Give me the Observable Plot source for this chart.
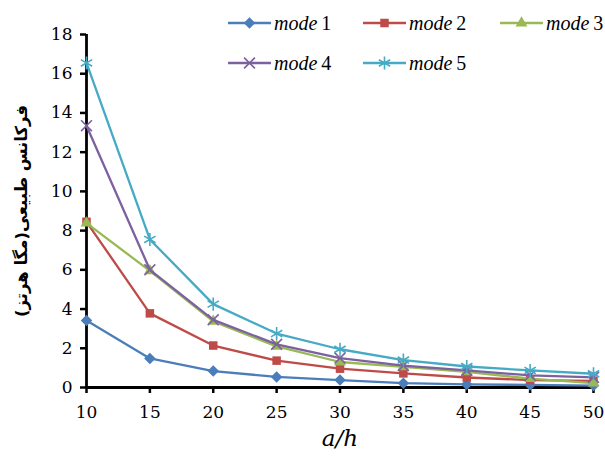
<!DOCTYPE html>
<html>
<head>
<meta charset="utf-8">
<script src="https://cdn.jsdelivr.net/npm/d3@7"></script>
<script src="https://cdn.jsdelivr.net/npm/@observablehq/plot@0.6"></script>
<style>
  html, body { margin: 0; padding: 0; background: #fff; }
  #wrap { position: relative; width: 605px; height: 458px; overflow: hidden; }
  .legend { position: absolute; display: flex; align-items: center; font-family: "Liberation Serif", serif; font-size: 20px; color: #000; white-space: nowrap; }
  .legend svg { display: block; margin-right: 3px; }
  .legend i { margin-right: 4px; }
</style>
</head>
<body>
<div id="wrap"></div>
<script>
const xs = [10, 15, 20, 25, 30, 35, 40, 45, 50];
const mode1 = [3.42, 1.48, 0.84, 0.54, 0.38, 0.22, 0.16, 0.13, 0.10];
const mode2 = [8.45, 3.78, 2.14, 1.37, 0.96, 0.72, 0.51, 0.38, 0.34];
const mode3 = [8.38, 5.95, 3.37, 2.10, 1.30, 1.05, 0.80, 0.45, 0.22];
const mode4 = [13.35, 6.00, 3.45, 2.20, 1.50, 1.12, 0.87, 0.62, 0.52];
const mode5 = [16.55, 7.55, 4.25, 2.75, 1.95, 1.40, 1.07, 0.87, 0.70];
const seriesNames = ["mode 1", "mode 2", "mode 3", "mode 4", "mode 5"];
const seriesValues = [mode1, mode2, mode3, mode4, mode5];
const colors = ["#4A7EBB", "#BE4B48", "#98B954", "#7D60A0", "#46AAC5"];
const xTicks = [10, 15, 20, 25, 30, 35, 40, 45, 50];
const yTicks = [0, 2, 4, 6, 8, 10, 12, 14, 16, 18];
const xLabel = "a/h";
const yLabel = "فرکانس طبیعی(مگا هرتز)";

const squareDiamond = {
  draw(ctx, size) {
    const r = Math.sqrt(size / 2);
    ctx.moveTo(0, -r); ctx.lineTo(r, 0); ctx.lineTo(0, r); ctx.lineTo(-r, 0); ctx.closePath();
  }
};
const symbols = [squareDiamond, "square", "triangle", "times", "asterisk"];
const radii = [4.6, 4.8, 4.4, 5, 6.2];
const filled = [true, true, true, false, false];

const data = seriesNames.flatMap((name, i) => xs.map((x, j) => ({series: name, x, y: seriesValues[i][j]})));

const marks = [
  Plot.axisY({ticks: yTicks, tickSize: 6, tickPadding: 8, strokeWidth: 2.5, label: null, fontSize: 17}),
  Plot.axisX({ticks: xTicks, tickSize: 6, tickPadding: 12, strokeWidth: 2.5, label: null, fontSize: 17}),
  Plot.ruleX([10], {stroke: "#000", strokeWidth: 2.8}),
  Plot.ruleY([0], {stroke: "#000", strokeWidth: 2.8})
];
seriesNames.forEach((name, i) => {
  const d = data.filter(r => r.series === name);
  marks.push(Plot.line(d, {x: "x", y: "y", stroke: colors[i], strokeWidth: 2.3}));
  marks.push(Plot.dot(d, {
    x: "x", y: "y", symbol: () => symbols[i], r: radii[i],
    fill: filled[i] ? colors[i] : "none",
    stroke: filled[i] ? "none" : colors[i],
    strokeWidth: 1.6
  }));
});
marks.push(Plot.text([xLabel], {frameAnchor: "bottom", dy: 58, fontStyle: "italic", fontSize: 23, fontFamily: "DejaVu Serif"}));
marks.push(Plot.text([yLabel], {frameAnchor: "left", textAnchor: "middle", dx: -65, rotate: -90, fontSize: 16.5, fontWeight: "bold", fontFamily: "DejaVu Sans"}));

const chart = Plot.plot({
  width: 605, height: 458,
  marginLeft: 86, marginRight: 12, marginTop: 34, marginBottom: 71,
  style: {fontFamily: "DejaVu Serif", fontSize: "17px", color: "#000", background: "#fff", overflow: "visible"},
  x: {domain: [10, 50]},
  y: {domain: [0, 18]},
  marks
});
const wrap = document.getElementById("wrap");
wrap.appendChild(chart);

// legend
const legendPos = [[228, 23], [363, 23], [500, 23], [228, 63], [363, 63]];
const symbolTypes = [squareDiamond, d3.symbolSquare, d3.symbolTriangle, d3.symbolTimes, d3.symbolAsterisk];
seriesNames.forEach((name, i) => {
  const div = document.createElement("div");
  div.className = "legend";
  div.style.left = legendPos[i][0] + "px";
  div.style.top = (legendPos[i][1] - 11) + "px";
  div.style.height = "22px";
  const w = 43, h = 16;
  const path = d3.symbol(symbolTypes[i], Math.PI * radii[i] * radii[i])();
  const f = filled[i];
  div.innerHTML = `<svg width="${w}" height="${h}"><line x1="0" x2="${w}" y1="${h/2}" y2="${h/2}" stroke="${colors[i]}" stroke-width="2.3"/>` +
    `<path transform="translate(${w/2},${h/2})" d="${path}" fill="${f ? colors[i] : "none"}" stroke="${f ? "none" : colors[i]}" stroke-width="1.6"/></svg>` +
    `<i>${name.split(" ")[0]}</i><span>${name.split(" ")[1]}</span>`;
  wrap.appendChild(div);
});
</script>
</body>
</html>
